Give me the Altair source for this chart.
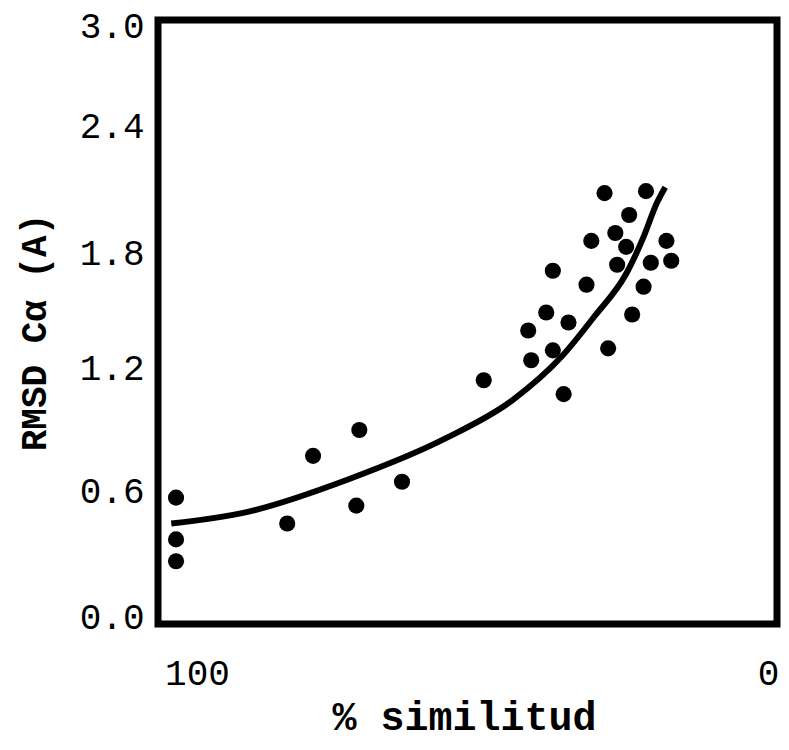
import altair as alt
import pandas as pd

# Scatter points
similitud = [100, 100, 100, 81.5, 77.2, 69.5, 70.0, 62.4, 48.8, 41.4, 40.9, 38.4,
             37.3, 37.3, 35.5, 34.7, 31.7, 30.9, 28.7, 28.1, 26.9, 26.6, 25.1,
             24.6, 24.1, 22.2, 21.8, 21.0, 18.4, 17.6]
rmsd = [0.60, 0.39, 0.28, 0.47, 0.81, 0.94, 0.56, 0.68, 1.19, 1.44, 1.29, 1.53,
        1.74, 1.34, 1.12, 1.48, 1.67, 1.89, 2.13, 1.35, 1.93, 1.77, 1.86,
        2.02, 1.52, 1.66, 2.14, 1.78, 1.89, 1.79]

# Fitted curve
fit_x = [100.8, 87.9, 71.5, 55.0, 44.0, 35.8, 30.4, 25.0, 22.2, 20.0, 18.6]
fit_y = [0.47, 0.53, 0.69, 0.90, 1.09, 1.31, 1.51, 1.73, 1.91, 2.08, 2.16]

x_ticks = [100, 0]
y_ticks = [0.0, 0.6, 1.2, 1.8, 2.4, 3.0]

pts = pd.DataFrame({"sim": similitud, "rmsd": rmsd})
fit = pd.DataFrame({"sim": fit_x, "rmsd": fit_y})

FONT = "Liberation Mono"

xscale = alt.Scale(domain=[103, 0], nice=False, zero=False)
yscale = alt.Scale(domain=[-0.035, 3.0], nice=False, zero=False)

xaxis = alt.Axis(
    values=x_ticks, format="d", ticks=False, domain=False, grid=False,
    labelFlush=False,
    labelFont=FONT, labelFontSize=36, labelColor="black", labelPadding=32,
    labelOffset={"condition": {"test": "datum.value == 100", "value": 21}, "value": -9},
    title="% similitud", titleFont=FONT, titleFontSize=40, titleFontWeight="bold",
    titleColor="black", titleX=306, titleY=105, titleAlign="center",
    titleBaseline="alphabetic",
)

# small per-label shifts so the labels sit where the reference prints them
y_label_offset = {
    "condition": [
        {"test": "abs(datum.value - 3.0) < 0.01", "value": 6},
        {"test": "abs(datum.value - 2.4) < 0.01", "value": -13},
        {"test": "abs(datum.value - 1.8) < 0.01", "value": -5},
        {"test": "abs(datum.value - 1.2) < 0.01", "value": -10},
        {"test": "abs(datum.value - 0.6) < 0.01", "value": -6},
    ],
    "value": 0,
}

yaxis = alt.Axis(
    values=y_ticks, format=".1f", ticks=False, domain=False, grid=False,
    labelFlush=False,
    labelFont=FONT, labelFontSize=36, labelColor="black", labelPadding=14,
    labelOffset=y_label_offset,
    title="RMSD Cα (A)", titleFont=FONT, titleFontSize=36, titleFontWeight="bold",
    titleColor="black", titleAngle=270, titleX=-113, titleY=312,
    titleAlign="center", titleBaseline="alphabetic",
)

points = alt.Chart(pts).mark_point(filled=True, color="black", size=260, opacity=1).encode(
    x=alt.X("sim:Q", scale=xscale, axis=xaxis),
    y=alt.Y("rmsd:Q", scale=yscale, axis=yaxis),
)

line = alt.Chart(fit).mark_line(color="black", strokeWidth=6, interpolate="monotone").encode(
    x=alt.X("sim:Q", scale=xscale),
    y=alt.Y("rmsd:Q", scale=yscale),
)

chart = alt.layer(line, points).properties(
    width=619, height=604,
    autosize=alt.AutoSizeParams(type="none"),
    padding={"left": 150, "top": 12, "right": 4, "bottom": 117},
).configure_view(
    stroke="black", strokeWidth=7
)

chart.save("out.html", embed_options={"renderer": "svg", "actions": False})
